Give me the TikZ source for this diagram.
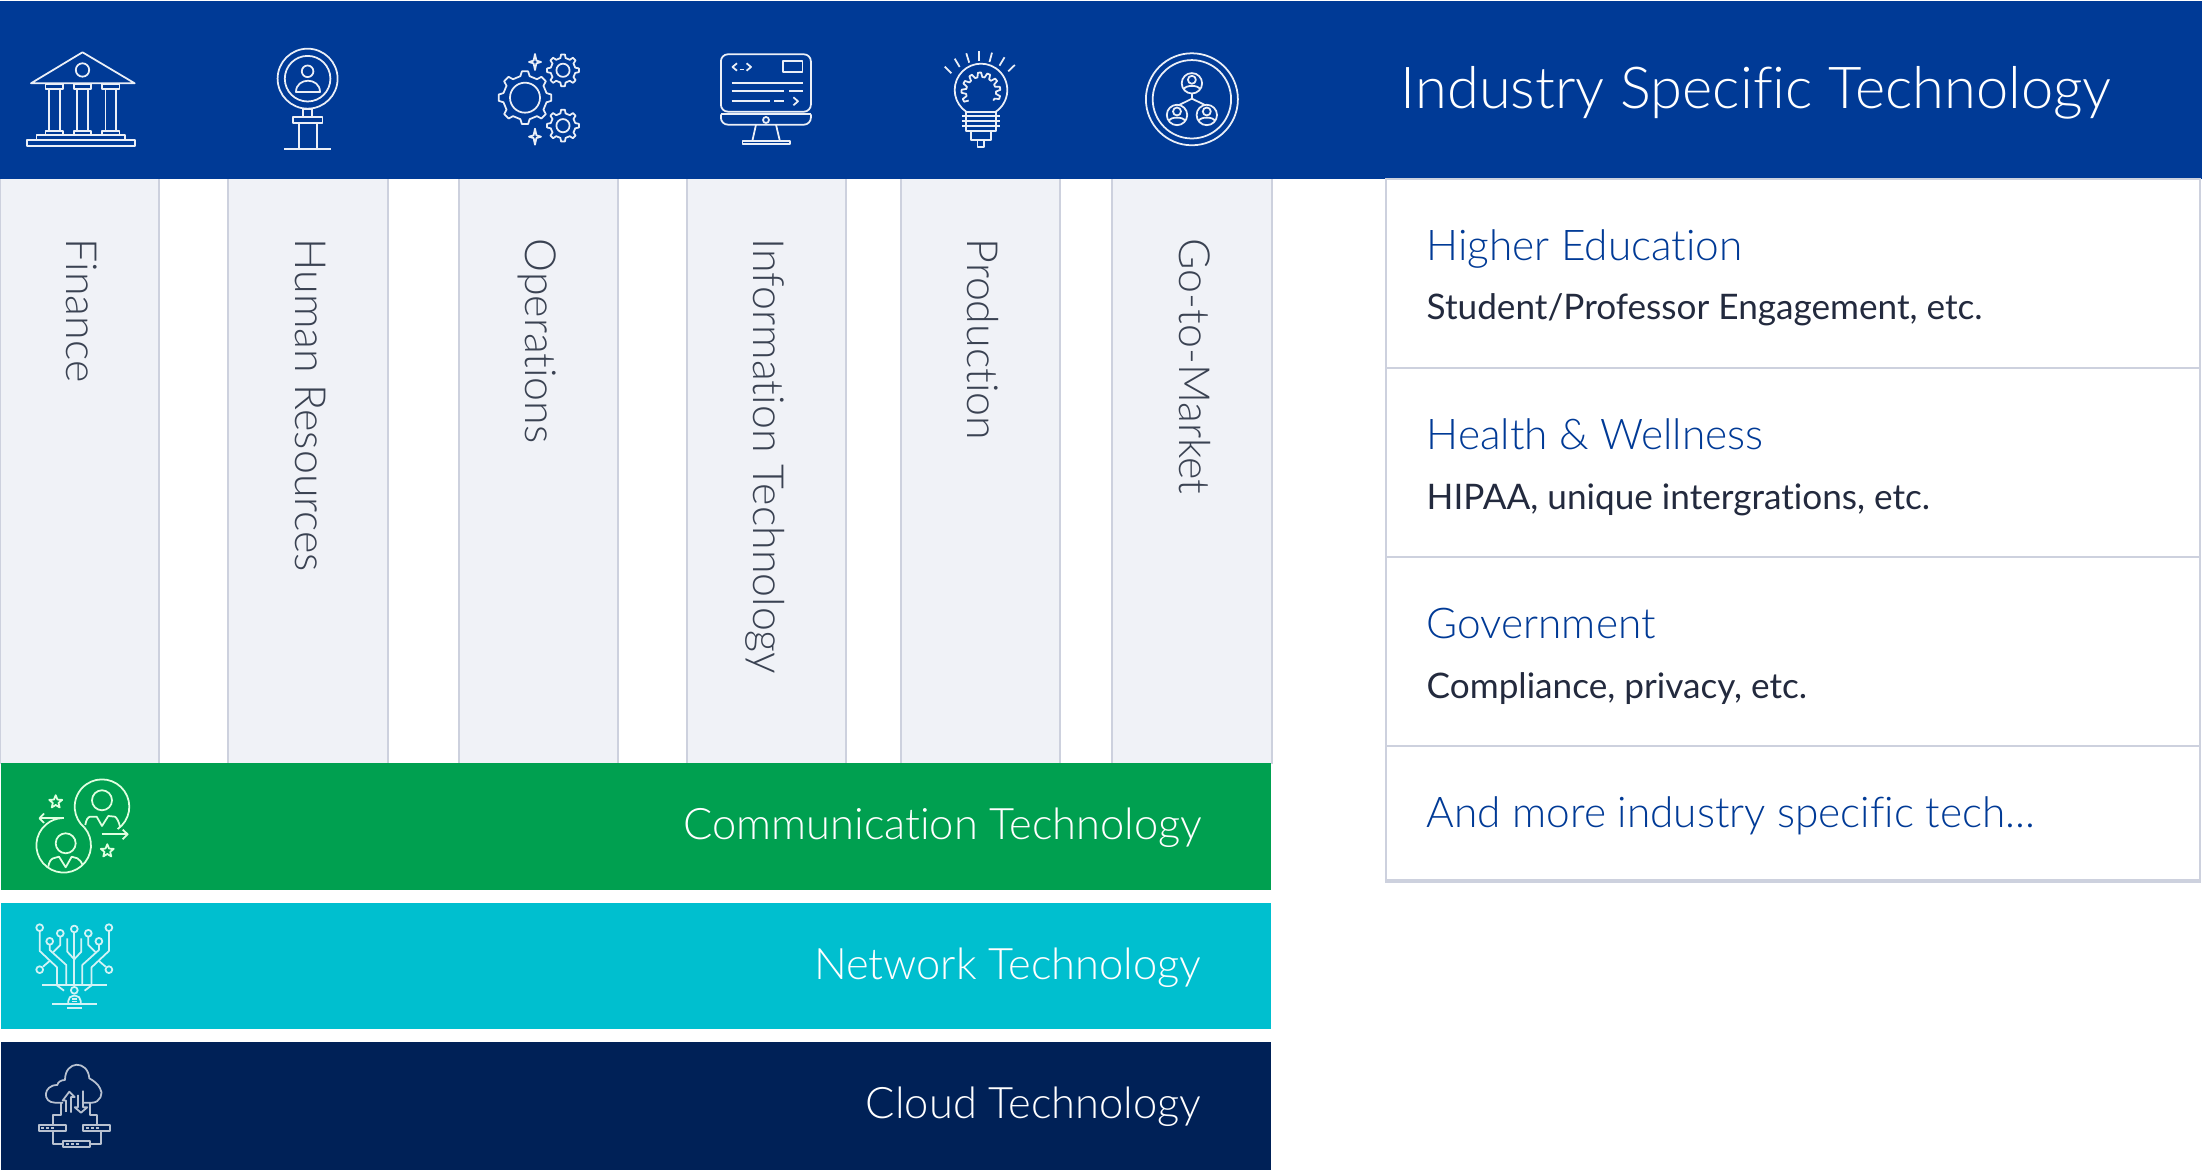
\documentclass[tikz,border=0pt]{standalone}
\usepackage{fontspec}
\setmainfont{Lato}[Ligatures=NoCommon]
\newfontfamily\lightfont{Lato Light}[Ligatures=NoCommon]
\definecolor{headblue}{HTML}{003A96}
\definecolor{commgreen}{HTML}{00A050}
\definecolor{netteal}{HTML}{00BFCF}
\definecolor{cloudnavy}{HTML}{002157}
\definecolor{colfill}{HTML}{F0F2F7}
\definecolor{rulegray}{HTML}{CDD1DE}
\definecolor{labelgray}{HTML}{3A4252}
\definecolor{subdark}{HTML}{232A3E}
\tikzstyle{column}=[fill=colfill, minimum width=1.58cm, minimum height=5.84cm, inner sep=0pt]
\tikzstyle{columnlabel}=[rotate=-90, anchor=base west, inner sep=0pt, text=labelgray, font=\lightfont\fontsize{12.2}{14}\selectfont]
\tikzstyle{bar}=[minimum width=12.70cm, inner sep=0pt]
\tikzstyle{barlabel}=[anchor=base east, inner sep=0pt, text=white, font=\lightfont\fontsize{12.35}{14}\selectfont]
\tikzstyle{cell}=[draw=rulegray, line width=.55pt, fill=white, minimum width=8.14cm, inner sep=0pt]
\tikzstyle{celltitle}=[anchor=base west, inner sep=0pt, text=headblue, font=\lightfont\fontsize{12.05}{14}\selectfont]
\tikzstyle{celltext}=[anchor=base west, inner sep=0pt, text=subdark, font=\fontsize{10}{12}\selectfont]
\tikzstyle{icon}=[line width=.5pt, line join=round, color=white!92!headblue]
\tikzstyle{commicon}=[line width=.5pt, line join=round, color=green!12!white]
\tikzstyle{neticon}=[line width=.5pt, line join=round, color=white!82!netteal]
\tikzstyle{cloudicon}=[line width=.5pt, line join=round, color=white!72!cloudnavy]
% x, y, hole, root, tip, teeth
\newcommand{\gearicon}[6]{
    \pgfmathsetmacro{\stp}{360/#6}
    \draw[icon, shift={(#1,#2)}] (0,0) circle[radius=#3];
    \draw[icon, shift={(#1,#2)}] ({-.27*\stp}:#4)
        \foreach \ang [evaluate=\ang as \ang using (\ang-1)*\stp] in {1,...,#6} {
            -- ({\ang-.27*\stp}:#4) -- ({\ang-.15*\stp}:#5) -- ({\ang+.15*\stp}:#5) -- ({\ang+.27*\stp}:#4)
        } -- cycle;
}
\newcommand{\sparkle}[2]{
    \draw[icon, shift={(#1,#2)}] (0,-8) -- (1.4,-1.4) -- (6,0) -- (1.4,1.4) -- (0,8) -- (-1.4,1.4) -- (-6,0) -- (-1.4,-1.4) -- cycle;
}
\newcommand{\staricon}[2]{
    \draw[commicon, shift={(#1,#2)}] (-90:6.8) -- (-54:3) -- (-18:6.8) -- (18:3) -- (54:6.8) -- (90:3) -- (126:6.8) -- (162:3) -- (198:6.8) -- (234:3) -- cycle;
}
\newcommand{\personicon}[2]{
    \draw[icon, shift={(#1,#2)}] (0,0) circle[radius=10.2];
    \draw[icon, shift={(#1,#2)}] (0,-3.5) circle[radius=4];
    \draw[icon, shift={(#1,#2)}] (-8,6) .. controls (-7,1.5) and (7,1.5) .. (8,6);
}
\newcommand{\wirebox}[2]{
    \draw[cloudicon, shift={(#1,#2)}] (0,0) rectangle (27,6.6);
    \foreach \xx in {2.5,7.5,12.5}
        \draw[cloudicon, shift={(#1,#2)}] (\xx,3.6) -- ++(3.2,0);
}
\begin{document}
\begin{tikzpicture}[x=0.01cm, y=-0.01cm]
    \useasboundingbox (0,0) rectangle (2202,1171);

    \foreach \pos/\name/\label in {
                            {79.5/finance/Finance},
                            {308/human/Human Resources},
                            {538.3/operations/Operations},
                            {766.3/infotech/Information Technology},
                            {980.3/production/Production},
                            {1191.8/market/Go-to-Market}}
    {
        \node[column] (\name) at (\pos,471) {};
        \draw[rulegray, line width=.55pt] (\name.north west) -- (\name.south west);
        \draw[rulegray, line width=.55pt] (\name.north east) -- (\name.south east);
        \node[columnlabel] (\name text) at (\pos-12.7,238) {\label};
    }

    \node[fill=headblue, minimum width=22.01cm, minimum height=1.78cm, inner sep=0pt] (header) at (1101.5,90) {};
    \node[anchor=base west, inner sep=0pt, text=white, font=\lightfont\fontsize{16.45}{18}\selectfont] (title) at (1400,109) {Industry Specific Technology};

    \node[bar, fill=commgreen, minimum height=1.27cm] (comm) at (636,826.5) {};
    \node[bar, fill=netteal, minimum height=1.257cm] (network) at (636,966.2) {};
    \node[bar, fill=cloudnavy, minimum height=1.27cm] (cloud) at (636,1106) {};
    \node[barlabel] (commtext) at (1203,839.3) {Communication Technology};
    \node[barlabel] (networktext) at (1202,979.3) {Network Technology};
    \node[barlabel] (cloudtext) at (1202,1118.3) {Cloud Technology};

    % industry list on the right
    \node[cell, minimum height=1.887cm] (higher) at (1793,273.35) {};
    \node[cell, minimum height=1.89cm] (health) at (1793,462.2) {};
    \node[cell, minimum height=1.89cm] (gov) at (1793,651.2) {};
    \node[cell, minimum height=1.343cm] (more) at (1793,812.85) {};
    \draw[rulegray, line width=.9pt] (more.south west) -- (more.south east);
    \node[celltitle] (highertext) at (1426,260.7) {Higher Education};
    \node[celltext] (highersub) at (1426,320) {Student/Professor Engagement, etc.};
    \node[celltitle] (healthtext) at (1426,449.3) {Health \& Wellness};
    \node[celltext] (healthsub) at (1426,509.3) {HIPAA, unique intergrations, etc.};
    \node[celltitle] (govtext) at (1426,638.3) {Government};
    \node[celltext] (govsub) at (1426,698.3) {Compliance, privacy, etc.};
    \node[celltitle] (moretext) at (1426,827.3) {And more industry specific tech...};

    % finance icon
    \draw[icon] (31,83.3) -- (82.5,52.3) -- (134.7,83.3) -- cycle;
    \draw[icon] (82.5,70) circle[radius=6.7];
    \foreach \xx in {45.6,73.8,102} {
        \draw[icon] (\xx,84) rectangle ++(17.4,4.7);
        \draw[icon] (\xx+3.4,88.7) rectangle ++(10.7,42);
        \draw[icon] (\xx,130.7) rectangle ++(17.4,4.3);
    }
    \draw[icon] (36.5,135) rectangle (124.8,140.3);
    \draw[icon] (27,140.3) rectangle (134.7,146.3);

    % human resources icon
    \draw[icon] (307.6,78.7) circle[radius=30];
    \draw[icon] (307.6,78.7) circle[radius=22.8];
    \draw[icon] (307.6,71.3) circle[radius=5.8];
    \draw[icon] (296,92) .. controls (296,77) and (320,77) .. (320,92) -- cycle;
    \draw[icon] (303,108.7) rectangle (312,116.7);
    \draw[icon] (293,116.7) rectangle (322.6,123.3);
    \draw[icon] (299,123.3) -- (299,149.3);
    \draw[icon] (316.7,123.3) -- (316.7,149.3);
    \draw[icon] (284.4,149.3) -- (331.3,149.3);

    % operations icon
    \gearicon{525}{97.7}{15}{22}{26.5}{8}
    \gearicon{563}{70.3}{6.6}{12.5}{16}{8}
    \gearicon{563}{125.7}{6.6}{12.5}{16}{8}
    \sparkle{535}{62}
    \sparkle{535}{136.7}

    % information technology icon
    \draw[icon, rounded corners=2pt] (720.9,54.3) rectangle (810.9,111.7);
    \draw[icon, rounded corners=2pt] (720.9,114.3) -- (720.9,124.7) -- (810.9,124.7) -- (810.9,114.3);
    \draw[icon] (720.9,114.3) -- (810.9,114.3);
    \draw[icon] (766,120) circle[radius=3];
    \draw[icon] (756,124.7) -- (752.4,140.7);
    \draw[icon] (776,124.7) -- (779.8,140.7);
    \draw[icon] (742.5,140.7) rectangle (789.7,144.3);
    \draw[icon] (737,63.3) -- (732.5,67) -- (737,70.7);
    \draw[icon] (746.6,63.3) -- (751,67) -- (746.6,70.7);
    \draw[icon] (739.5,69.5) -- (744,69.5);
    \draw[icon] (782.7,61.3) rectangle (802.6,72);
    \draw[icon] (731.7,82.7) -- (802.6,82.7);
    \draw[icon] (731.7,90.7) -- (784,90.7);
    \draw[icon] (789.3,90.7) -- (802.6,90.7);
    \draw[icon] (731.7,100.7) -- (769.8,100.7);
    \draw[icon] (774,100.7) -- (784,100.7);
    \draw[icon] (793.4,97.3) -- (798,101.3) -- (793.4,105.3);

    % production icon
    \draw[icon] (981,90)++(124:26.3) arc[start angle=124, end angle=416, radius=26.3];
    \draw[icon] (966.3,111.7) rectangle (996.2,131);
    \foreach \yy in {116,120.7,126}
        \draw[icon] (961.8,\yy) -- (1000.3,\yy);
    \draw[icon] (971.3,131) rectangle (991.2,140);
    \draw[icon] (977.5,140) rectangle (984.2,147.3);
    \foreach \xa/\ya/\xb/\yb in {944.8/66.7/951.4/73.3, 954.7/58.7/959.7/67, 966.3/53.3/969.2/62.7, 979.2/51.3/979.2/61.3,
                                 992/52.7/989.5/62, 1004.5/57.3/999.5/65.7, 1014.8/65/1008.2/71.3}
        \draw[icon] (\xa,\ya) -- (\xb,\yb);
    \draw[icon, shift={(981,92)}] (145:15)
        \foreach \ang [evaluate=\ang as \ang using 145+(\ang-1)*250/9] in {1,...,9} {
            -- (\ang:15) -- ({\ang+5}:19.5) -- ({\ang+14}:19.5) -- ({\ang+19}:15)
        } -- (395:15);

    % go-to-market icon
    \draw[icon] (1191.9,99.3) circle[radius=46];
    \draw[icon] (1191.9,99.3) circle[radius=39.2];
    \personicon{1191.9}{83.3}
    \personicon{1177}{115}
    \personicon{1206.8}{115}
    \draw[icon] (1191.9,93.5) -- (1191.9,98.7) -- (1178.6,105.3);
    \draw[icon] (1191.9,98.7) -- (1205.6,105.3);

    % communication icon
    \draw[commicon] (102,806.7)++(55:27.3) arc[start angle=55, end angle=-230, radius=27.3];
    \draw[commicon] (63.7,845.3)++(-40.5:27.3) arc[start angle=-40.5, end angle=268, radius=27.3];
    \draw[commicon] (64,818.3) -- (39.5,818.3);
    \draw[commicon] (44,813.5) -- (39.5,818.3) -- (44,823);
    \draw[commicon] (101.7,834.3) -- (127.7,834.3);
    \draw[commicon] (122.7,829.7) -- (127.7,834.3) -- (122.7,839.3);
    \draw[commicon] (102,800.3) circle[radius=10];
    \draw[commicon] (65.7,843.3) circle[radius=10];
    \draw[commicon] (85.3,825) .. controls (86,820) and (88,817) .. (90,816.7) -- (96.7,816.7) -- (102,826) -- (108.3,816) -- (115,816.7) .. controls (117,818) and (119,822) .. (120,826.7);
    \draw[commicon] (48.3,866.7) .. controls (49,862) and (51,859) .. (53.3,858.3) -- (59,856.7) -- (65.7,867.3) -- (71.7,856.7) -- (77.3,858.3) .. controls (80,860) and (81.5,862) .. (82.7,865);
    \staricon{55.7}{802}
    \staricon{107.3}{851}

    % network icon
    \foreach \sgn in {-1,1} {
        \begin{scope}[shift={(74.3,0)}, xscale=\sgn]
            \draw[neticon] (34.6,927.7) circle[radius=3.4];
            \draw[neticon] (14,933.3) circle[radius=3.4];
            \draw[neticon] (24.6,941.3) circle[radius=3.4];
            \draw[neticon] (34.6,969.7) circle[radius=3.4];
            \draw[neticon] (34.6,931) -- (34.6,951) -- (17.3,967.3) -- (17.3,984.7);
            \draw[neticon] (31.3,966.7) -- (24.3,960.7);
            \draw[neticon] (24.6,944.7) -- (24.6,950) -- (8,965) -- (8,984.7);
            \draw[neticon] (14,936.7) -- (14,945) -- (21,952);
            \draw[neticon] (7,938.3) -- (7,951.7) -- (0,959.3);
            \draw[neticon] (18.3,984.7) -- (10.3,990.7);
        \end{scope}
    }
    \draw[neticon] (74.3,929) circle[radius=3.4];
    \draw[neticon] (74.3,932.3) -- (74.3,984.7);
    \draw[neticon] (42.3,984.7) -- (106.7,984.7);
    \draw[neticon] (74.3,990.3) circle[radius=3.4];
    \draw[neticon, rounded corners=1.5pt] (68.3,1004) -- (68.3,995.7) -- (80.7,995.7) -- (80.7,1004);
    \draw[neticon] (52,1004) -- (97,1004);
    \draw[neticon] (67,1008.3) -- (82,1008.3);
    \draw[neticon] (72.3,999) -- (77,999);
    \draw[neticon] (72.3,1001.5) -- (77,1001.5);

    % cloud icon
    \draw[cloudicon] (63,1102.7) -- (55,1102.7) .. controls (42,1102.7) and (43,1085) .. (57.3,1085) .. controls (58,1082) and (61,1080) .. (65,1080)
        .. controls (65,1060) and (88,1060) .. (89.3,1078.3) .. controls (94,1081) and (98,1084) .. (100,1088.3)
        .. controls (104,1093) and (100,1102.7) .. (92,1102.7) -- (84,1102.7);
    \draw[cloudicon] (66,1112) -- (66,1100.5) -- (62.7,1100.5) -- (69.3,1091.7) -- (74.7,1097) -- (71,1097) -- (71,1112.7);
    \draw[cloudicon] (78,1095) -- (78,1107.3) -- (74.7,1107.3) -- (81,1112.7) -- (87.3,1107.3) -- (83,1107.3) -- (83,1090.7);
    \draw[cloudicon] (60.7,1102.7) -- (60.7,1115.3) -- (53.3,1115.3) -- (53.3,1124.7);
    \draw[cloudicon] (90,1102.7) -- (90,1115.3) -- (97,1115.3) -- (97,1124.7);
    \wirebox{38.7}{1124.7}
    \wirebox{83.3}{1124.7}
    \wirebox{63.3}{1140.7}
    \draw[cloudicon] (52.7,1131.3) -- (52.7,1144.3) -- (63.3,1144.3);
    \draw[cloudicon] (101,1131.3) -- (101,1144.3) -- (90.3,1144.3);
\end{tikzpicture}
\end{document}
